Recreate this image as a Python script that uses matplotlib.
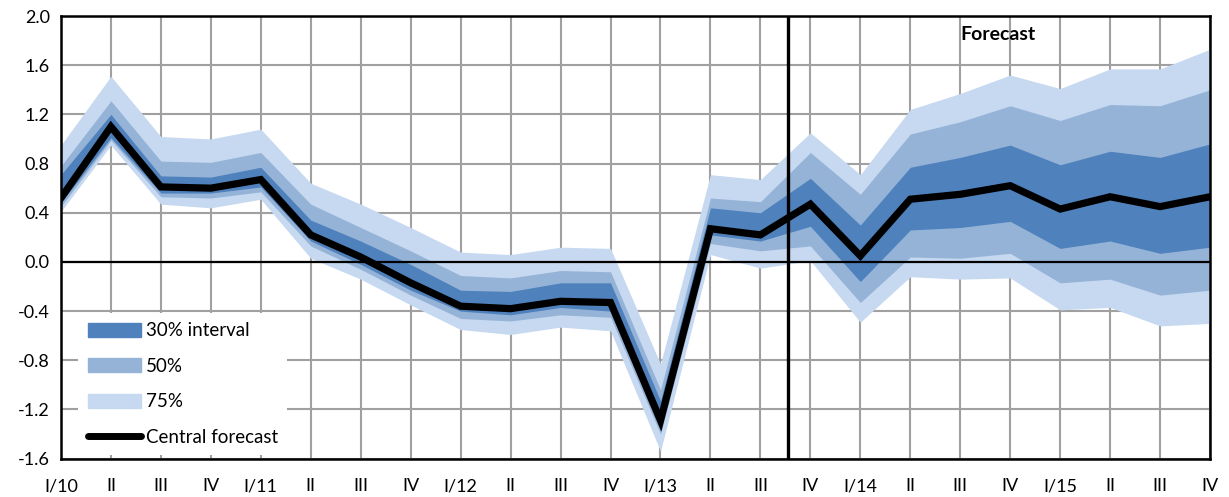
import matplotlib
matplotlib.use('Agg')
import matplotlib.pyplot as plt
from matplotlib.patches import Patch
from matplotlib.lines import Line2D
import numpy as np

OUT_PATH = 'out.png'

# quarters from I/10 to IV/15
quarters = ['I/10', 'II', 'III', 'IV', 'I/11', 'II', 'III', 'IV',
            'I/12', 'II', 'III', 'IV', 'I/13', 'II', 'III', 'IV',
            'I/14', 'II', 'III', 'IV', 'I/15', 'II', 'III', 'IV']

central = [0.52, 1.10, 0.61, 0.60, 0.67, 0.22, 0.04, -0.17,
           -0.36, -0.38, -0.32, -0.33, -1.29, 0.27, 0.22, 0.47,
           0.05, 0.51, 0.55, 0.62, 0.43, 0.53, 0.45, 0.53]

# interval bounds
up30 = [0.71, 1.20, 0.70, 0.69, 0.77, 0.34, 0.17, -0.02,
        -0.23, -0.24, -0.17, -0.17, -1.13, 0.44, 0.40, 0.68,
        0.30, 0.77, 0.85, 0.95, 0.79, 0.90, 0.85, 0.96]
lo30 = [0.48, 1.01, 0.56, 0.56, 0.61, 0.17, -0.02, -0.23,
        -0.40, -0.43, -0.37, -0.40, -1.35, 0.22, 0.17, 0.29,
        -0.16, 0.26, 0.28, 0.33, 0.11, 0.17, 0.07, 0.12]
up50 = [0.78, 1.31, 0.82, 0.81, 0.89, 0.47, 0.28, 0.09,
        -0.11, -0.13, -0.07, -0.08, -1.04, 0.52, 0.49, 0.89,
        0.55, 1.04, 1.14, 1.27, 1.15, 1.28, 1.27, 1.40]
lo50 = [0.45, 0.99, 0.53, 0.52, 0.57, 0.13, -0.06, -0.27,
        -0.46, -0.48, -0.43, -0.45, -1.40, 0.15, 0.09, 0.13,
        -0.33, 0.04, 0.03, 0.07, -0.17, -0.14, -0.27, -0.23]
up75 = [0.95, 1.51, 1.02, 1.00, 1.08, 0.64, 0.47, 0.28,
        0.08, 0.06, 0.12, 0.11, -0.83, 0.71, 0.67, 1.05,
        0.71, 1.24, 1.37, 1.52, 1.41, 1.57, 1.57, 1.73]
lo75 = [0.41, 0.95, 0.47, 0.44, 0.51, 0.03, -0.14, -0.35,
        -0.55, -0.59, -0.53, -0.56, -1.54, 0.06, -0.05, 0.01,
        -0.49, -0.12, -0.14, -0.13, -0.39, -0.37, -0.52, -0.50]

forecast_start = 14.55
yticks = [-1.6, -1.2, -0.8, -0.4, 0.0, 0.4, 0.8, 1.2, 1.6, 2.0]

C30 = '#4f81bd'
C50 = '#95b3d7'
C75 = '#c6d9f1'


def draw_fan_chart(save_path):
    plt.rcParams['font.family'] = ['Lato', 'DejaVu Sans']
    fig = plt.figure(figsize=(12.29, 4.97), dpi=100)
    ax = fig.add_axes([0.0496, 0.0771, 0.935, 0.8907])

    x = np.arange(len(quarters))
    ax.fill_between(x, lo75, up75, color=C75, lw=0, zorder=2)
    ax.fill_between(x, lo50, up50, color=C50, lw=0, zorder=3)
    ax.fill_between(x, lo30, up30, color=C30, lw=0, zorder=4)
    ax.plot(x, central, color='black', lw=5.2, zorder=6, solid_joinstyle='miter')

    ax.axhline(0, color='black', lw=1.6, zorder=5)
    ax.axvline(forecast_start, color='black', lw=2.4, zorder=5)

    ax.set_xlim(0, len(quarters) - 1)
    ax.set_ylim(-1.6, 2.0)
    ax.set_xticks(x)
    ax.set_xticklabels(quarters)
    ax.set_yticks(yticks)
    ax.set_yticklabels(['{0:.1f}'.format(v) for v in yticks])
    ax.tick_params(length=0, labelsize=13, pad=8)
    ax.tick_params(axis='x', pad=14)
    ax.grid(True, color='#a0a0a0', lw=1.5, zorder=1)
    ax.set_axisbelow(True)
    for s in ax.spines.values():
        s.set_linewidth(1.8)
        s.set_zorder(7)

    ax.text(18.75, 1.85, 'Forecast', fontsize=14, fontweight='bold',
            ha='center', va='center', zorder=8)

    handles = [Patch(color=C30), Patch(color=C50), Patch(color=C75),
               Line2D([], [], color='black', lw=5, solid_capstyle='round')]
    labels = ['30% interval', '50%', '75%', 'Central forecast']
    leg = ax.legend(handles, labels, loc='lower left',
                    bbox_to_anchor=(0.012, 0.0), fontsize=13.5,
                    frameon=True, facecolor='white', edgecolor='none',
                    framealpha=1, fancybox=False,
                    handlelength=2.85, handleheight=0.75, handletextpad=0.25,
                    labelspacing=0.98, borderaxespad=0.2, borderpad=0.5)
    leg.set_zorder(9)

    plt.savefig(save_path)


if __name__ == '__main__':
    draw_fan_chart(OUT_PATH)
